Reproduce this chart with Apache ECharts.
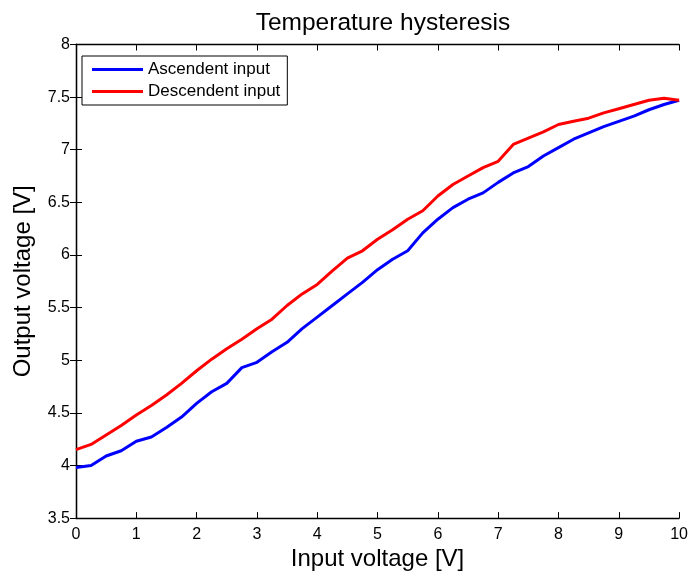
<!DOCTYPE html>
<html>
<head>
<meta charset="utf-8">
<script src="https://cdn.jsdelivr.net/npm/echarts@6/dist/echarts.min.js"></script>
<style>html,body{margin:0;padding:0;background:#fff}#c{width:691px;height:576px}</style>
</head>
<body>
<div id="c"></div>
<script>
const inputVoltage = [0,0.25,0.5,0.75,1,1.25,1.5,1.75,2,2.25,2.5,2.75,3,3.25,3.5,3.75,4,4.25,4.5,4.75,5,5.25,5.5,5.75,6,6.25,6.5,6.75,7,7.25,7.5,7.75,8,8.25,8.5,8.75,9,9.25,9.5,9.75,10];
const ascendent = [3.98,4.00,4.09,4.14,4.23,4.27,4.36,4.46,4.59,4.70,4.78,4.93,4.98,5.08,5.17,5.30,5.41,5.52,5.63,5.74,5.86,5.96,6.04,6.21,6.34,6.45,6.53,6.59,6.69,6.78,6.84,6.94,7.02,7.10,7.16,7.22,7.27,7.32,7.38,7.43,7.47];
const descendent = [4.15,4.20,4.29,4.38,4.48,4.57,4.67,4.78,4.90,5.01,5.11,5.20,5.30,5.39,5.52,5.63,5.72,5.85,5.97,6.04,6.15,6.24,6.34,6.42,6.56,6.67,6.75,6.83,6.89,7.05,7.11,7.17,7.24,7.27,7.30,7.35,7.39,7.43,7.47,7.49,7.47];
const seriesNames = ['Ascendent input','Descendent input'];
const titleText = 'Temperature hysteresis';
const xName = 'Input voltage [V]';
const yName = 'Output voltage [V]';

const FONT = "'Liberation Sans', Arial, Helvetica, sans-serif";
const chart = echarts.init(document.getElementById('c'), null, {renderer:'canvas'});
const axisCommon = {
  axisLine:{show:true, lineStyle:{color:'#000', width:1.3}},
  axisTick:{show:true, inside:true, length:6, lineStyle:{color:'#000', width:1}},
  splitLine:{show:false}
};
chart.setOption({
  animation:false,
  backgroundColor:'#fff',
  title:{text:titleText, left:378, textAlign:'center', top:6, textStyle:{fontFamily:FONT, fontSize:24.5, fontWeight:'normal', color:'#000'}},
  legend:{
    data:seriesNames, orient:'vertical', left:82, top:56, icon:'rect',
    backgroundColor:'#fff', borderColor:'#000', borderWidth:1, borderRadius:0,
    padding:[5,7,5,10], itemGap:5, itemWidth:51, itemHeight:3,
    textStyle:{fontFamily:FONT, fontSize:17, color:'#000', lineHeight:17}
  },
  grid:{left:76, right:11, top:44.5, bottom:56},
  xAxis:[
    Object.assign({type:'value', min:0, max:10, interval:1, name:xName, nameLocation:'middle', nameGap:28,
      nameTextStyle:{fontFamily:FONT, fontSize:24, color:'#000'},
      axisLabel:{fontFamily:FONT, fontSize:16, color:'#000', margin:8}}, axisCommon),
    Object.assign({type:'value', min:0, max:10, interval:1, position:'top', axisLabel:{show:false}}, axisCommon)
  ],
  yAxis:[
    Object.assign({type:'value', min:3.5, max:8, interval:0.5, name:yName, nameLocation:'middle', nameGap:41,
      nameTextStyle:{fontFamily:FONT, fontSize:24, color:'#000'},
      axisLabel:{fontFamily:FONT, fontSize:16, color:'#000', margin:6}}, axisCommon),
    Object.assign({type:'value', min:3.5, max:8, interval:0.5, position:'right', axisLabel:{show:false}}, axisCommon)
  ],
  series:[
    {name:seriesNames[0], type:'line', symbol:'none', data:inputVoltage.map((x,i)=>[x,ascendent[i]]),
      lineStyle:{color:'#0000ff', width:3}, itemStyle:{color:'#0000ff'}},
    {name:seriesNames[1], type:'line', symbol:'none', data:inputVoltage.map((x,i)=>[x,descendent[i]]),
      lineStyle:{color:'#ff0000', width:3}, itemStyle:{color:'#ff0000'}}
  ]
});
</script>
</body>
</html>
